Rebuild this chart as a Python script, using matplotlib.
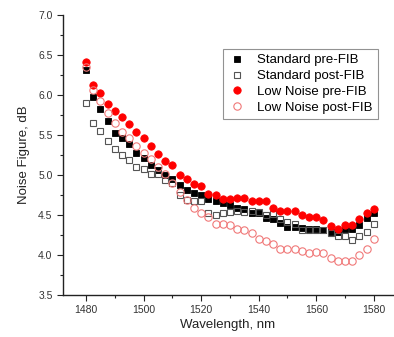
import matplotlib
matplotlib.use("Agg")
import matplotlib.pyplot as plt
import numpy as np
from matplotlib.ticker import MultipleLocator

plt.rcParams['font.family'] = ['Liberation Sans', 'DejaVu Sans']

wavelength = [1480 + 2.5 * i for i in range(41)]

std_pre = [6.32, 5.98, 5.83, 5.67, 5.53, 5.46, 5.39, 5.27, 5.21, 5.13,
           5.06, 5.00, 4.95, 4.87, 4.81, 4.77, 4.75, 4.70, 4.68, 4.65,
           4.62, 4.59, 4.58, 4.53, 4.53, 4.46, 4.45, 4.40, 4.35, 4.35,
           4.34, 4.32, 4.32, 4.31, 4.29, 4.29, 4.32, 4.32, 4.38, 4.46, 4.52]

std_post = [5.90, 5.65, 5.55, 5.43, 5.33, 5.25, 5.19, 5.10, 5.07, 5.01,
            5.01, 4.94, 4.90, 4.75, 4.69, 4.67, 4.67, 4.53, 4.50, 4.53,
            4.54, 4.55, 4.54, 4.55, 4.54, 4.50, 4.51, 4.45, 4.41, 4.39,
            4.31, 4.31, 4.31, 4.31, 4.28, 4.24, 4.24, 4.19, 4.24, 4.29, 4.39]

ln_pre = [6.41, 6.12, 6.02, 5.89, 5.80, 5.73, 5.64, 5.54, 5.46, 5.36,
          5.26, 5.18, 5.12, 5.00, 4.95, 4.89, 4.86, 4.76, 4.75, 4.70,
          4.70, 4.71, 4.71, 4.67, 4.67, 4.67, 4.59, 4.55, 4.55, 4.55,
          4.50, 4.47, 4.47, 4.44, 4.36, 4.33, 4.37, 4.38, 4.45, 4.53, 4.58]

ln_post = [6.35, 6.06, 5.92, 5.77, 5.65, 5.54, 5.46, 5.36, 5.27, 5.20,
           5.10, 5.01, 4.90, 4.79, 4.69, 4.59, 4.53, 4.47, 4.39, 4.39,
           4.37, 4.33, 4.31, 4.28, 4.20, 4.17, 4.14, 4.07, 4.07, 4.07,
           4.05, 4.02, 4.04, 4.02, 3.96, 3.92, 3.93, 3.93, 4.00, 4.08, 4.20]

labels = ["Standard pre-FIB", "Standard post-FIB", "Low Noise pre-FIB", "Low Noise post-FIB"]

fig = plt.figure(figsize=(3.94, 3.37), dpi=100)
ax = fig.add_axes([0.160, 0.125, 0.837, 0.830])

ax.plot(wavelength, std_pre, linestyle='none', marker='s', ms=4.6,
        mfc='black', mec='black', mew=0.6, label=labels[0], zorder=3)
ax.plot(wavelength, std_post, linestyle='none', marker='s', ms=4.6,
        mfc='none', mec='#555555', mew=0.8, label=labels[1], zorder=3)
ax.plot(wavelength, ln_pre, linestyle='none', marker='o', ms=5.3,
        mfc='#ff0000', mec='#ff0000', mew=0.6, label=labels[2], zorder=4)
ax.plot(wavelength, ln_post, linestyle='none', marker='o', ms=5.3,
        mfc='none', mec='#f07878', mew=0.8, label=labels[3], zorder=4)

ax.set_xlim(1472, 1586.6)
ax.set_ylim(3.5, 7.0)
ax.xaxis.set_major_locator(MultipleLocator(20))
ax.xaxis.set_minor_locator(MultipleLocator(10))
ax.yaxis.set_major_locator(MultipleLocator(0.5))
ax.yaxis.set_minor_locator(MultipleLocator(0.25))
ax.yaxis.set_major_formatter(matplotlib.ticker.FormatStrFormatter('%.1f'))

for s in ['top', 'right']:
    ax.spines[s].set_visible(False)
for s in ['left', 'bottom']:
    ax.spines[s].set_linewidth(1.0)
    ax.spines[s].set_color('#222222')

ax.tick_params(which='major', direction='out', length=4, width=0.8,
               labelsize=7.5, colors='#222222', labelcolor='#333333')
ax.tick_params(which='minor', direction='out', length=2.5, width=0.8, colors='#222222')

ax.set_xlabel("Wavelength, nm", fontsize=9.5, color='#222222', labelpad=3)
ax.set_ylabel("Noise Figure, dB", fontsize=9.5, color='#222222', labelpad=6)

leg = ax.legend(loc='upper left', bbox_to_anchor=(0.485, 0.88), fontsize=9.5,
                frameon=True, fancybox=False, edgecolor='#777777',
                borderpad=0.4, handletextpad=0.9, labelspacing=0.28,
                handlelength=1.3, borderaxespad=0)
leg.get_frame().set_linewidth(0.8)

fig.savefig("out.png", dpi=100)
